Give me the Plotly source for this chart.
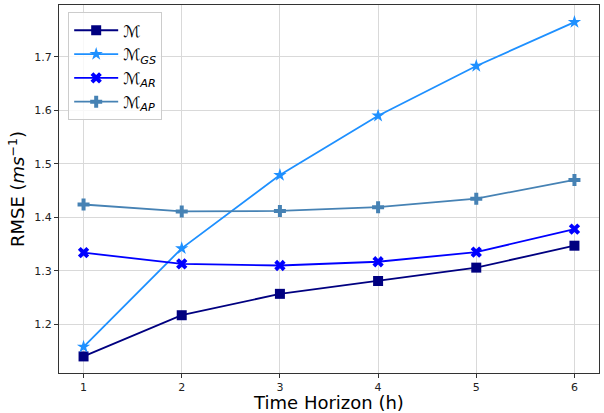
import plotly.graph_objects as go

hours = [1, 2, 3, 4, 5, 6]
m_base = [1.140, 1.217, 1.257, 1.281, 1.306, 1.347]
m_gs = [1.158, 1.342, 1.479, 1.590, 1.683, 1.765]
m_ar = [1.334, 1.313, 1.310, 1.317, 1.335, 1.378]
m_ap = [1.424, 1.411, 1.412, 1.419, 1.435, 1.470]

series = [
    ("ℳ", m_base, "#000080", "square", 10),
    ("ℳ<sub><i>GS</i></sub>", m_gs, "#1E90FF", "star", 10),
    ("ℳ<sub><i>AR</i></sub>", m_ar, "#0000FF", "x", 10),
    ("ℳ<sub><i>AP</i></sub>", m_ap, "#4682B4", "cross", 10),
]

fig = go.Figure()
for name, ys, col, sym, sz in series:
    fig.add_trace(go.Scatter(
        x=hours, y=ys, name=name, mode="lines+markers",
        line=dict(color=col, width=1.8),
        marker=dict(symbol=sym, size=sz, color=col, line=dict(width=0)),
    ))

axis_common = dict(
    showgrid=True, gridcolor="#d9d9d9", gridwidth=1,
    showline=True, linecolor="#333333", linewidth=1, mirror=True,
    ticks="outside", ticklen=4, tickcolor="#333333",
    tickfont=dict(size=11, color="#222222", family="DejaVu Sans"),
    zeroline=False, automargin=False,
)

fig.update_layout(
    width=604, height=413,
    margin=dict(l=59, r=5, t=5, b=40),
    paper_bgcolor="white", plot_bgcolor="white",
    font=dict(family="DejaVu Sans", color="#000000"),
    xaxis=dict(range=[0.75, 6.25], tickvals=hours, ticktext=[str(h) for h in hours],
               title=dict(text="Time Horizon (h)", font=dict(size=18), standoff=2),
               **axis_common),
    yaxis=dict(range=[1.109, 1.797], tickvals=[1.2, 1.3, 1.4, 1.5, 1.6, 1.7],
               ticktext=["1.2", "1.3", "1.4", "1.5", "1.6", "1.7"],
               title=dict(text="RMSE (<i>ms</i><sup>−1</sup>)", font=dict(size=18), standoff=4),
               **axis_common),
    legend=dict(x=0.017, y=0.98, xanchor="left", yanchor="top",
                bgcolor="rgba(255,255,255,0.8)", bordercolor="#cccccc", borderwidth=1,
                font=dict(size=16, family="DejaVu Sans"), itemwidth=44, tracegroupgap=0),
    showlegend=True,
)

fig.write_html("out.html", config={"displayModeBar": False},
               post_script="document.body.style.margin='0';document.body.style.overflow='hidden';")
